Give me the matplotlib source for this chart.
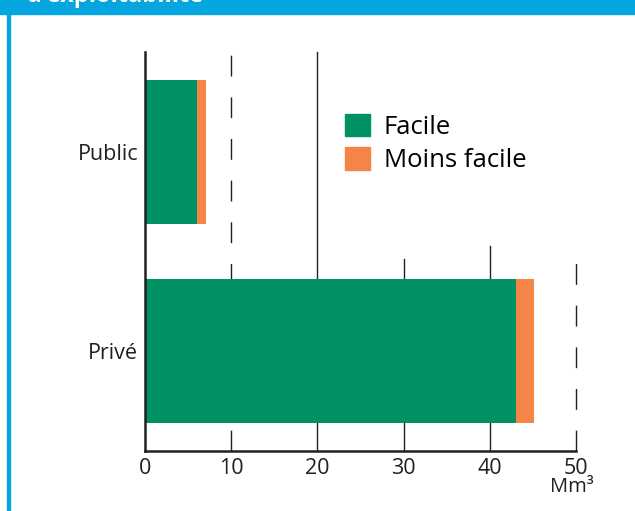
import matplotlib.pyplot as plt
from matplotlib.patches import Patch

plt.rcParams['font.family'] = ['Open Sans', 'DejaVu Sans']

categories = ['Privé', 'Public']
facile = [43.0, 6.0]
moins_facile = [2.1, 1.1]
xticks = [0, 10, 20, 30, 40, 50]
unit = 'Mm³'
header = "d'exploitabilité"

green = '#009264'
orange = '#F58547'
blue = '#05A5DF'
dark = '#231F20'

fig = plt.figure(figsize=(6.35, 5.11), dpi=100)

# bandeau du haut + bord gauche
fig.patches.append(plt.Rectangle((0, 1 - 14 / 511), 1, 14 / 511, transform=fig.transFigure,
                                 color=blue, zorder=0))
fig.patches.append(plt.Rectangle((7 / 635, 0), 3 / 635, 1 - 14 / 511, transform=fig.transFigure,
                                 color=blue, zorder=0))
# titre coupé en haut comme sur l'original
fig.text(27 / 635, 1 - 1.5 / 511, header, color='white', fontsize=17, fontweight='bold',
         va='baseline', ha='left')

ax = fig.add_axes([145 / 635, 60 / 511, 431 / 635, 399 / 511])

pos = range(len(categories))
ax.barh(pos, facile, height=0.72, color=green, zorder=3, label='Facile')
ax.barh(pos, moins_facile, left=facile, height=0.72, color=orange, zorder=3, label='Moins facile')

# grille : pointillés à 10 et 50, pleins ailleurs, masquée derrière la légende
grid_top = {10: 1.0, 20: 1.0, 30: 0.481, 40: 0.514, 50: 0.481}
for x, top in grid_top.items():
    ls = (0, (15, 15)) if x in (10, 50) else '-'
    ax.axvline(x, ymin=0, ymax=top, color=dark, lw=1.0, ls=ls, zorder=1, clip_on=False)

ax.set_xlim(0, 50)
ax.set_ylim(-0.5, 1.5)
ax.set_xticks(xticks)
ax.set_yticks(list(pos))
ax.set_yticklabels(categories)
ax.tick_params(axis='both', length=0, labelsize=15.5, colors=dark)
ax.tick_params(axis='x', pad=5)
ax.tick_params(axis='y', pad=5)

for s in ['top', 'right']:
    ax.spines[s].set_visible(False)
for s in ['left', 'bottom']:
    ax.spines[s].set_color(dark)
    ax.spines[s].set_linewidth(1.8)
    ax.spines[s].set_zorder(4)

ax.text(1.04, -0.09, unit, transform=ax.transAxes, ha='right', va='center',
        fontsize=14.5, color=dark)

handles = [Patch(color=green, label='Facile'), Patch(color=orange, label='Moins facile')]
ax.legend(handles=handles, loc='upper left', bbox_to_anchor=(0.465, 0.845), frameon=False,
          fontsize=18.5, handlelength=0.95, handleheight=0.95, handletextpad=0.55,
          labelspacing=0.3, borderpad=0, borderaxespad=0)

fig.savefig('out.png', dpi=100)
